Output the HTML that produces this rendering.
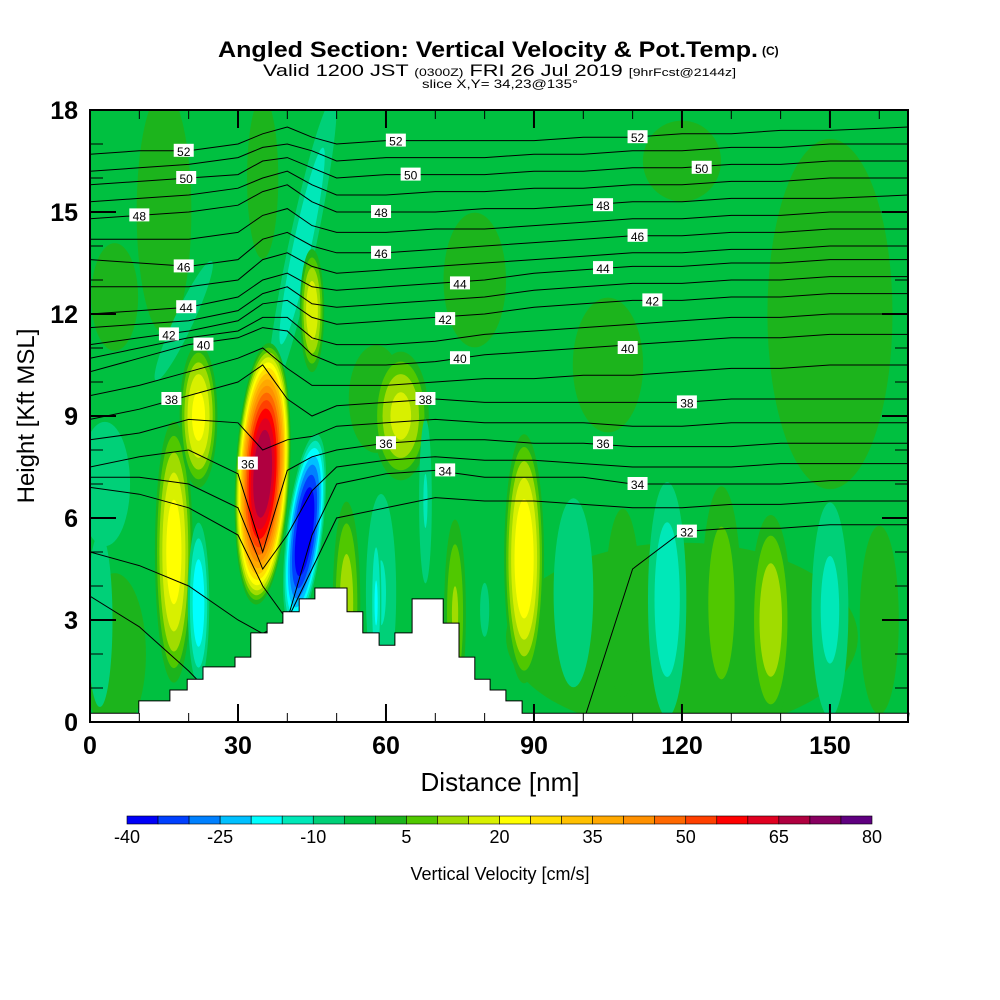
<!DOCTYPE html>
<html><head><meta charset="utf-8"><style>
html,body{margin:0;padding:0;background:#fff;width:1000px;height:1000px;overflow:hidden}
svg{display:block}
text{font-family:"Liberation Sans",sans-serif}
</style></head><body>
<svg id="chart" width="1000" height="1000" viewBox="0 0 1000 1000" xmlns="http://www.w3.org/2000/svg">
<g>
<text x="218" y="57" font-size="22" font-weight="bold" textLength="540" lengthAdjust="spacingAndGlyphs">Angled Section: Vertical Velocity &amp; Pot.Temp.</text>
<text x="762" y="55" font-size="12" font-weight="bold">(C)</text>
<text x="263" y="76" font-size="17" textLength="473" lengthAdjust="spacingAndGlyphs">Valid 1200 JST <tspan font-size="11">(0300Z)</tspan> FRI 26 Jul 2019 <tspan font-size="11">[9hrFcst@2144z]</tspan></text>
<text x="422" y="88" font-size="12" textLength="156" lengthAdjust="spacingAndGlyphs">slice X,Y= 34,23@135°</text>
</g>
<defs><clipPath id="pc"><rect x="90" y="110" width="818" height="612"/></clipPath></defs>
<g id="field" clip-path="url(#pc)"></g>
<g id="contours" clip-path="url(#pc)"></g>
<g id="terrain"></g>
<g id="clabels"></g>
<rect x="90" y="110" width="818" height="612" fill="none" stroke="#000" stroke-width="2"/>
<g id="axes"></g>
<text x="500" y="791" font-size="26" text-anchor="middle">Distance [nm]</text>
<text transform="translate(34,416) rotate(-90)" font-size="24" text-anchor="middle">Height [Kft MSL]</text>
<g id="cbar"></g>
<text x="500" y="880" font-size="18" text-anchor="middle">Vertical Velocity [cm/s]</text>
</svg>
<script>
// ---- data ----
const cbColors=["#0000f8","#0040ff","#0080ff","#00c0ff","#00ffff","#00e8b8","#00d078","#00c040","#1cb41c","#50c800","#a0dc00","#d8f000","#ffff00","#ffe000","#ffc000","#ffa800","#ff9000","#ff6800","#ff4000","#ff0000","#e00020","#b00040","#880060","#600080"];
const cbTicks=[-40,-25,-10,5,20,35,50,65,80];
const xTicks=[0,30,60,90,120,150];
const yTicks=[0,3,6,9,12,15,18];
const baseVal=-2;
// vertical-velocity features: centre nm, centre kft, half-width nm, half-height kft, peak cm/s, tilt deg
const featX=[ 15, 35, 150,105, 58, 78,   5, 120,  5, 120, 3,  19,  43,  22, 17, 22, 63, 45,  2, 15, 22, 35, 43.5, 52, 59, 58, 74, 80, 88, 98,108,117,128,138,150,160, 68];
const featY=[ 15, 16, 12, 10.5,9.5,13,  2,  2.5,12.5,16.5,7, 11.8,14,  3.5,5.0,9.0,9.0,12.1,3, 5, 3.5,7.3,5.6, 3.5,3.8,3.5,3.2,3.3,4.8,3.8,3.5,3.6,3.5,3.0,3.3,3.0, 6.5];
const featRX=[ 7,  4,  16,  9,  7,  8,   8,  45, 6, 10,  7,  2.5,3.2, 3,  4.0,4.0,6.0,2.6,3.5,2, 2.4,5.6,3.8, 3,  3.8,1.2,2.4,3.5,4.2,5.5,4.5,4.5,4.5,4.5,4.5,5, 1.6];
const featRY=[ 4.5,3,  6.5,2.5,2,  2.5, 3,  3.5,2,   1.5,2.5,2.5,5.2, 3,  4.0,2.2,2.0,1.9,3.5,2.5,2.6,3.9,3.0, 3.2,3.6,2.5,3,  3,  3.8,3.8,3.5,4,  3.8,3.3,3.8,3.5,3.0];
const featPeak=[3,  3,  3,  3,  3,  3,   3,   3,  3,  3, -8, -9, -13, -3, 22, 21, 16, 18,-8,-3,-18,68,-40, 12,-10,-15,10, -5, 24, -8, 3, -13, 8, 13,-11, 3,-10];
const featRot=[ 0,  0,  0,  0,  0,  0,   0,   0,  0,  0,  0, 25, 12,  0,  0,  0,  0,  0,  0, 0,  0,  3,  7,  0,  0,  0,  0,  0,  0,  0,  0,  0,  0,  0,  0,  0,  0];
// potential temperature contours (deg C): height (kft) at stations
const stations=[0,10,20,30,35,40,45,50,60,70,80,90,100,110,120,130,140,150,166];
const levels=[52,51,50,49,48,47,46,45,44,43,42,41,40,39,38,37,36,35,34,33,32];
const th52=[16.7,16.8,16.8,17.0,17.3,17.5,17.2,17.0,17.1,17.1,17.1,17.1,17.2,17.2,17.3,17.3,17.4,17.4,17.5];
const th51=[16.2,16.3,16.4,16.6,16.9,17.0,16.8,16.5,16.6,16.6,16.6,16.7,16.7,16.8,16.8,16.9,16.9,17.0,17.0];
const th50=[15.8,15.9,16.0,16.1,16.5,16.6,16.3,16.0,16.1,16.1,16.1,16.2,16.2,16.3,16.3,16.4,16.4,16.5,16.5];
const th49=[15.3,15.4,15.5,15.7,16.0,16.2,15.8,15.5,15.5,15.6,15.6,15.7,15.7,15.8,15.8,15.9,15.9,16.0,16.0];
const th48=[14.8,14.9,15.0,15.2,15.6,15.8,15.3,15.0,15.0,15.0,15.1,15.1,15.2,15.3,15.3,15.4,15.4,15.4,15.5];
const th47=[14.2,14.2,14.2,14.4,14.9,15.1,14.6,14.4,14.4,14.5,14.5,14.6,14.7,14.8,14.8,14.9,14.9,15.0,15.0];
const th46=[13.6,13.5,13.4,13.6,14.2,14.4,14.0,13.8,13.8,13.9,14.0,14.1,14.2,14.3,14.3,14.4,14.4,14.5,14.5];
const th45=[12.8,12.8,12.8,13.0,13.6,13.8,13.4,13.2,13.3,13.4,13.5,13.6,13.7,13.8,13.8,13.9,13.9,14.0,14.0];
const th44=[12.0,12.1,12.2,12.5,13.0,13.2,12.8,12.7,12.8,12.9,13.0,13.2,13.3,13.4,13.4,13.5,13.5,13.6,13.6];
const th43=[11.6,11.7,11.8,12.1,12.6,12.8,12.3,12.2,12.3,12.4,12.5,12.7,12.8,12.9,12.9,13.0,13.0,13.1,13.1];
const th42=[11.1,11.3,11.5,11.8,12.3,12.4,11.9,11.7,11.8,11.9,12.0,12.2,12.3,12.4,12.4,12.5,12.5,12.6,12.6];
const th41=[10.7,11.0,11.3,11.5,11.9,11.9,11.3,11.1,11.1,11.2,11.4,11.5,11.6,11.7,11.8,11.9,11.9,12.0,12.0];
const th40=[10.3,10.7,11.1,11.3,11.6,11.5,10.8,10.5,10.5,10.6,10.8,10.9,11.0,11.1,11.2,11.3,11.3,11.4,11.4];
const th39=[9.6,9.9,10.3,10.7,11.0,10.4,9.9,9.9,9.9,10.0,10.1,10.1,10.2,10.2,10.3,10.4,10.4,10.5,10.5];
const th38=[8.9,9.2,9.6,10.0,10.5,9.5,9.0,9.3,9.4,9.5,9.4,9.4,9.4,9.4,9.4,9.5,9.5,9.5,9.5];
const th37=[8.3,8.5,8.9,8.8,8.0,8.3,8.4,8.7,8.8,8.9,8.8,8.8,8.8,8.7,8.7,8.8,8.8,8.8,8.8];
const th36=[7.5,7.8,8.0,7.3,5.0,7.4,7.8,8.0,8.2,8.3,8.3,8.2,8.2,8.1,8.1,8.1,8.2,8.2,8.2];
const th35=[7.2,7.2,7.0,6.3,4.5,5.5,6.8,7.5,7.7,7.8,7.7,7.7,7.6,7.5,7.5,7.5,7.6,7.6,7.6];
const th34=[6.9,6.7,6.3,5.5,4.0,3.0,5.5,7.0,7.3,7.4,7.2,7.2,7.2,7.0,7.0,7.0,7.0,7.1,7.1];
const th33=[5.0,4.6,4.0,3.0,2.6,3.0,4.5,6.0,6.3,6.6,6.5,6.5,6.4,6.3,6.3,6.4,6.4,6.5,6.5];
const th32=[3.7,2.8,1.5,0.0,0.0,0.0,0.0,0.0,0.0,0.0,0.0,0.0,0.0,4.5,5.6,5.7,5.7,5.8,5.8];
const thetaRows=[th52,th51,th50,th49,th48,th47,th46,th45,th44,th43,th42,th41,th40,th39,th38,th37,th36,th35,th34,th33,th32];
const labelText=["52","52","52","50","50","50","48","48","48","46","46","46","44","44","44","42","42","42","40","40","40","38","38","38","36","36","36","34","34","32"];
const labelNm=[19,62,111,19.5,65,124,10,59,104,19,59,111,19.5,75,104,16,72,114,23,75,109,16.5,68,121,32,60,104,72,111,121];
const labelKft=[16.8,17.1,17.2,16.0,16.1,16.3,14.9,15.0,15.2,13.4,13.8,14.3,12.2,12.9,13.35,11.4,11.85,12.4,11.1,10.7,11.0,9.5,9.5,9.4,7.6,8.2,8.2,7.4,7.0,5.6];
// terrain surface: distance nm, height kft
const terrNm=[0,9.9,16.2,19.7,22.9,29.4,32.6,35.9,39.1,42.4,45.6,52.1,55.3,58.6,61.8,65.3,71.6,74.8,78.0,81.1,84.3,87.6,90.6,166];
const terrKft=[0.26,0.62,0.94,1.26,1.62,1.91,2.62,2.91,3.24,3.62,3.94,3.24,2.62,2.26,2.62,3.62,2.91,1.91,1.26,0.94,0.62,0.26,0.26,0.26];

// ---- axes functions ----
const X=nm=>90+nm*4.933;
const Y=k=>722-k*34;
const NS="http://www.w3.org/2000/svg";
function mk(tag,attrs,parent){const e=document.createElementNS(NS,tag);for(const k in attrs)e.setAttribute(k,attrs[k]);parent.appendChild(e);return e;}
function colorFor(v){let i=Math.floor((v+40)/5);i=Math.max(0,Math.min(23,i));return cbColors[i];}

// field
const field=document.getElementById('field');
const bg=mk('rect',{x:90,y:110,width:818,height:612,fill:colorFor(baseVal)},field);


for(let f=0;f<featX.length;f++){
  const p=featPeak[f];
  const g=mk('g',{transform:'rotate('+featRot[f]+' '+X(featX[f])+' '+Y(featY[f])+')'},field);
  
  
  const th=[];
  if(p>baseVal){for(let t=Math.ceil((baseVal+0.01)/5)*5;t<=p;t+=5)th.push(t);}
  else{for(let t=Math.floor((baseVal-0.01)/5)*5;t>=p;t-=5)th.push(t);}
  th.forEach(t=>{
    const fr=Math.sqrt(Math.max(0.002,1-((t-baseVal)/(p-baseVal))*0.93));
    const v=p>baseVal?t+0.1:t-0.1;
    const e=mk('ellipse',{cx:X(featX[f]),cy:Y(featY[f]),rx:Math.max(0.5,featRX[f]*4.933*fr),ry:Math.max(0.5,featRY[f]*34*fr),fill:colorFor(v)},g);
    
    
  });
}

// contours
const cg=document.getElementById('contours');
thetaRows.forEach((row,li)=>{
  let d='';
  row.forEach((h,i)=>{d+=(i?'L':'M')+X(stations[i]).toFixed(1)+','+Y(h).toFixed(1);});
  const p=mk('path',{d:d,fill:'none',stroke:'#000','stroke-width':1},cg);
  
  
});

// terrain
const tg=document.getElementById('terrain');
let td='M90,722';
for(let i=0;i<terrNm.length-1;i++){td+=' L'+X(terrNm[i]).toFixed(1)+','+Y(terrKft[i]).toFixed(1)+' L'+X(terrNm[i+1]).toFixed(1)+','+Y(terrKft[i]).toFixed(1);}
td+=' L908,722 Z';
const tp=mk('path',{d:td,fill:'#fff',stroke:'#000','stroke-width':1},tg);



// contour labels
const lg=document.getElementById('clabels');
labelText.forEach((t,i)=>{
  const x=X(labelNm[i]),y=Y(labelKft[i]);
  const r=mk('rect',{x:x-10,y:y-7,width:20,height:13,fill:'#fff'},lg);
  
  
  const tx=mk('text',{x:x,y:y+5,'font-size':12,'text-anchor':'middle','font-family':'Liberation Mono, monospace'},lg);
  tx.textContent=t;
  
  
});

// axes
const ax=document.getElementById('axes');
for(let k=0;k<=18;k++){
  const L=k%3===0?26:13;
  const a=mk('line',{x1:90,x2:90+L,y1:Y(k),y2:Y(k),stroke:'#000','stroke-width':k%3===0?2:1},ax);
  
  const b=mk('line',{x1:908-L,x2:908,y1:Y(k),y2:Y(k),stroke:'#000','stroke-width':k%3===0?2:1},ax);
  
}
for(let n=0;n<=160;n+=10){
  const L=n%30===0?18:9;
  const a=mk('line',{x1:X(n),x2:X(n),y1:722-L,y2:722,stroke:'#000','stroke-width':n%30===0?2:1},ax);
  
  const b=mk('line',{x1:X(n),x2:X(n),y1:110,y2:110+L,stroke:'#000','stroke-width':n%30===0?2:1},ax);
  
}
yTicks.forEach(v=>{
  const t=mk('text',{x:78,y:Y(v)+9,'font-size':25,'font-weight':'bold','text-anchor':'end'},ax);
  t.textContent=v;
  
});
xTicks.forEach(v=>{
  const t=mk('text',{x:X(v),y:754,'font-size':25,'font-weight':'bold','text-anchor':'middle'},ax);
  t.textContent=v;
  
});

// colorbar
const cb=document.getElementById('cbar');
const cx0=127,cw=(872-127)/24;
cbColors.forEach((c,i)=>{
  const r=mk('rect',{x:cx0+i*cw,y:816,width:cw,height:8,fill:c,stroke:'#000','stroke-width':0.6},cb);
  
});
cbTicks.forEach(v=>{
  const t=mk('text',{x:cx0+(v+40)/5*cw,y:843,'font-size':18,'text-anchor':'middle'},cb);
  t.textContent=v;
  
});
</script>
</body></html>
